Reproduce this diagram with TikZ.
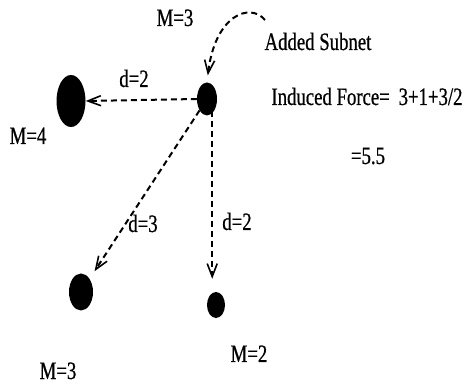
\documentclass[tikz,border=0pt]{standalone}
\usepackage{fontspec}
\setmainfont{Liberation Serif}[FakeStretch=0.75,FakeBold=0.6]
\usetikzlibrary{arrows.meta,shapes.geometric}
\tikzset{
  >={Straight Barb[length=13pt,width=10pt,line width=1.6pt]},
  % massor
  sn/.style={ellipse,fill=black,draw=none,inner sep=0pt},
  lbl/.style={font=\fontsize{25}{27}\selectfont,inner sep=0pt,anchor=base},
  % krafter
  fe/.style={->,draw=black,line width=2pt,dash pattern=on 6pt off 4pt},
}
\begin{document}
\begin{tikzpicture}[x=1pt,y=-1pt]
  \useasboundingbox (0,0) rectangle (466,387);
  \node[sn,minimum width=20pt,minimum height=33pt] (sub) at (207,99) {};
  \node[sn,minimum width=29pt,minimum height=52pt] (ma) at (71,101) {};
  \node[sn,minimum width=24pt,minimum height=37pt] (mb) at (81,292) {};
  \node[sn,minimum width=18pt,minimum height=26pt] (mc) at (216,305) {};
  \coordinate (cs) at (265,20);
  \node[lbl] (msub) at (175,26) {M=3};
  \node[lbl] (added) at (318,50) {Added Subnet};
  \node[lbl] (force) at (367,105) {Induced Force=\, 3+1+3/2};
  \node[lbl] (res) at (368,164) {=5.5};
  \node[lbl] (da) at (134,87) {d=2};
  \node[lbl] (mma) at (28,144) {M=4};
  \node[lbl] (db) at (143,232) {d=3};
  \node[lbl] (dc) at (237,230) {d=2};
  \node[lbl] (mmb) at (58,379) {M=3};
  \node[lbl] (mmc) at (249,362) {M=2};
  \draw[fe] (sub.west) -- (ma.east);
  \draw[fe,shorten >=9pt] (sub) -- (mb);
  \draw[fe,shorten >=13pt] (sub.south east) ++(-2,0) coordinate (sv) -- (sv |- mc.north);
  \draw[fe,shorten >=7pt] (cs) .. controls (250,2) and (215,15) .. (sub.north);
\end{tikzpicture}
\end{document}
